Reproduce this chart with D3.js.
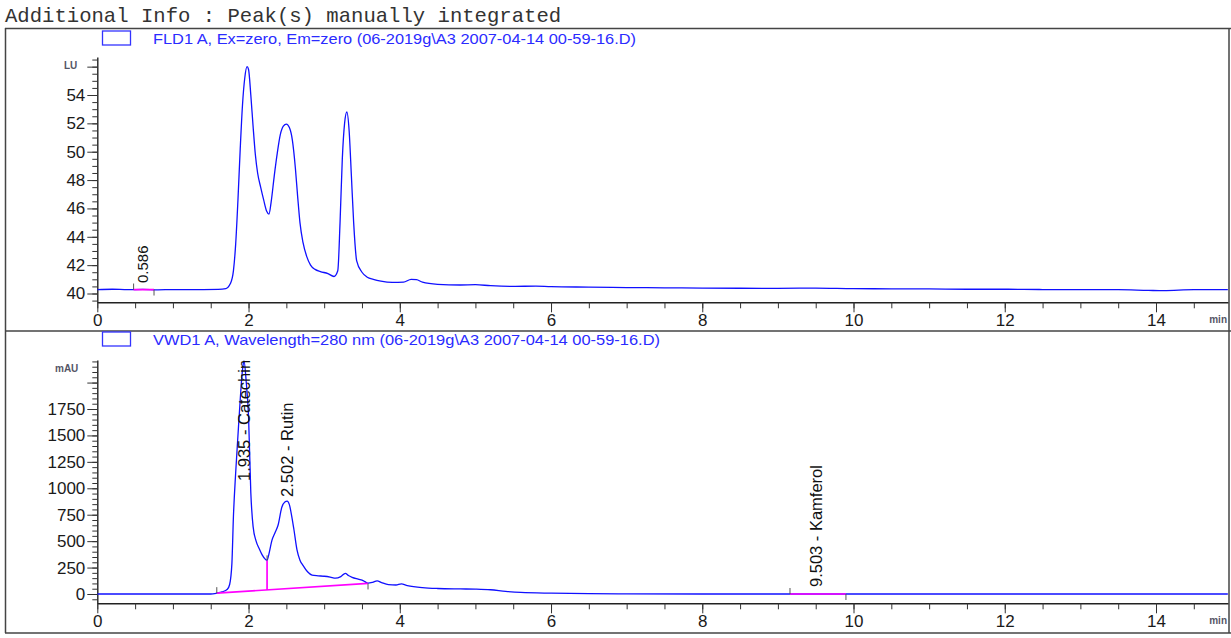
<!DOCTYPE html>
<html>
<head>
<meta charset="utf-8">
<script src="https://cdn.jsdelivr.net/npm/d3@7"></script>
<style>
body { margin: 0; background: #fff; }
text { font-family: "Liberation Sans", Arial, sans-serif; }
</style>
</head>
<body>
<div id="chart"></div>
<script>
// FLD1 trace, [time (min), LU]
const fldTrace = [
  [0, 40.28], [0.2, 40.30], [0.4, 40.27], [0.6, 40.29], [0.8, 40.26], [1.0, 40.28],
  [1.2, 40.27], [1.4, 40.28], [1.6, 40.29], [1.7, 40.35], [1.76, 40.7], [1.80, 41.6],
  [1.83, 43.5], [1.86, 46.6], [1.89, 50.2], [1.92, 53.3], [1.95, 55.2], [1.98, 56.0],
  [2.00, 55.8], [2.03, 54.0], [2.06, 51.8], [2.09, 49.8], [2.12, 48.5], [2.16, 47.5],
  [2.20, 46.6], [2.24, 45.8], [2.27, 45.6], [2.30, 46.5], [2.34, 48.3], [2.38, 49.9],
  [2.42, 51.2], [2.46, 51.8], [2.50, 51.95], [2.54, 51.7], [2.58, 50.8], [2.62, 48.8],
  [2.65, 46.8], [2.68, 45.0], [2.72, 43.6], [2.77, 42.6], [2.82, 42.0], [2.88, 41.7],
  [2.95, 41.55], [3.05, 41.4], [3.13, 41.2], [3.18, 41.6], [3.21, 45.0], [3.24, 49.5],
  [3.27, 52.0], [3.30, 52.8], [3.33, 51.5], [3.36, 48.3], [3.39, 45.0], [3.43, 42.3],
  [3.50, 41.5], [3.57, 41.15], [3.65, 41.0], [3.75, 40.87], [3.9, 40.78], [4.05, 40.8],
  [4.15, 41.0], [4.22, 40.98], [4.3, 40.8], [4.5, 40.65], [4.8, 40.6], [5.0, 40.62],
  [5.2, 40.55], [5.5, 40.5], [5.8, 40.52], [6.0, 40.48], [6.5, 40.45], [7.0, 40.42],
  [7.5, 40.40], [8.0, 40.38], [8.5, 40.37], [9.0, 40.36], [9.5, 40.38], [10.0, 40.34],
  [10.5, 40.33], [11.0, 40.32], [11.5, 40.30], [12.0, 40.30], [12.5, 40.28], [13.0, 40.28],
  [13.5, 40.27], [13.9, 40.22], [14.1, 40.2], [14.5, 40.27], [14.95, 40.27]
];

// VWD1 trace, [time (min), mAU]
const vwdTrace = [
  [0, 0], [1.0, 0], [1.5, 0], [1.58, 8], [1.65, 20], [1.72, 45], [1.75, 90], [1.78, 290],
  [1.80, 730], [1.83, 1150], [1.86, 1500], [1.89, 1840], [1.92, 2120], [1.94, 2205],
  [1.97, 2000], [2.00, 1680], [2.03, 960], [2.06, 640], [2.10, 500], [2.14, 430],
  [2.18, 370], [2.22, 330], [2.245, 318], [2.27, 380], [2.31, 510], [2.35, 580],
  [2.39, 650], [2.44, 820], [2.48, 870], [2.51, 878], [2.54, 845], [2.57, 740],
  [2.60, 610], [2.64, 420], [2.68, 320], [2.72, 270], [2.78, 210], [2.84, 178],
  [2.92, 172], [3.00, 168], [3.08, 160], [3.15, 150], [3.22, 165], [3.28, 195],
  [3.32, 175], [3.37, 158], [3.45, 140], [3.52, 125], [3.58, 102], [3.64, 110],
  [3.70, 125], [3.76, 108], [3.85, 88], [3.95, 85], [4.02, 95], [4.1, 80], [4.3, 60],
  [4.5, 52], [4.8, 48], [5.0, 46], [5.2, 40], [5.4, 25], [5.6, 15], [6.0, 8], [6.5, 4],
  [7.0, 1], [8.0, 0], [9.0, 0], [14.95, 0]
];

const xMajor = [0, 2, 4, 6, 8, 10, 12, 14];
const xMinor = d3.range(0, 15, 0.5);

const fldYMajor = [40, 42, 44, 46, 48, 50, 52, 54, 56];
const fldYLabels = [40, 42, 44, 46, 48, 50, 52, 54];
const fldYMinor = d3.range(39.5, 56.6, 0.5);

const vwdYMajor = [0, 250, 500, 750, 1000, 1250, 1500, 1750, 2000];
const vwdYLabels = [0, 250, 500, 750, 1000, 1250, 1500, 1750];
const vwdYMinor = d3.range(-50, 2201, 50);

// peak labels: retention time, text, height where the label starts
const fldPeaks = [{ rt: 0.586, label: "0.586", at: 40.74 }];
const vwdPeaks = [
  { rt: 1.935, label: "1.935 - Catechin", at: 1069 },
  { rt: 2.502, label: "2.502 - Rutin", at: 918 },
  { rt: 9.503, label: "9.503 - Kamferol", at: 66 }
];

// integration baselines: start/end [time, value], optional drop lines
const fldBaselines = [{ start: [0.48, 40.28], end: [0.75, 40.28], drops: [] }];
const vwdBaselines = [
  { start: [1.58, 8], end: [3.58, 100], drops: [2.245] },
  { start: [9.16, 0], end: [9.90, 0], drops: [] }
];

const W = 1231, H = 638;
const svg = d3.select("#chart").append("svg")
  .attr("width", W).attr("height", H)
  .style("display", "block");

svg.append("text")
  .attr("x", 5).attr("y", 22)
  .style("font-family", "'Liberation Mono', 'Courier New', monospace")
  .style("font-size", "20.6px")
  .attr("fill", "#333")
  .text("Additional Info : Peak(s) manually integrated");

// frame
const frame = svg.append("g").attr("stroke", "#444").attr("stroke-width", 1.5);
frame.append("line").attr("x1", 5).attr("x2", W).attr("y1", 28.5).attr("y2", 28.5);
frame.append("line").attr("x1", 5).attr("x2", W).attr("y1", 331).attr("y2", 331);
frame.append("line").attr("x1", 5).attr("x2", W).attr("y1", 633).attr("y2", 633);
frame.append("line").attr("x1", 5.5).attr("x2", 5.5).attr("y1", 28).attr("y2", 633);
frame.append("line").attr("x1", 1229).attr("x2", 1229).attr("y1", 28).attr("y2", 633);

const x = d3.scaleLinear().domain([0, 14]).range([97.3, 1156]);
x.domain([0, x.invert(1228)]).range([97.3, 1228]);

function panel(cfg) {
  const y = d3.scaleLinear().domain(cfg.anchor).range(cfg.anchorPx);
  y.domain([y.invert(cfg.bottom), y.invert(cfg.top)]).range([cfg.bottom, cfg.top]);

  const g = svg.append("g");

  // legend
  g.append("rect")
    .attr("x", 102.5).attr("y", cfg.legendY - 13).attr("width", 28).attr("height", 14)
    .attr("fill", "#fff").attr("stroke", "#3333ff").attr("stroke-width", 1.3);
  g.append("text")
    .attr("x", 153).attr("y", cfg.legendY)
    .attr("fill", "#2b2bff").style("font-size", "15px")
    .attr("textLength", cfg.legendLen).attr("lengthAdjust", "spacingAndGlyphs")
    .text(cfg.legend);

  // axes
  g.append("g").attr("transform", `translate(0,${cfg.bottom})`)
    .call(d3.axisBottom(x).tickValues(xMajor).tickSize(10).tickSizeOuter(0).tickPadding(2)
      .tickFormat(d3.format("d")));
  g.append("g").attr("transform", `translate(0,${cfg.bottom})`)
    .call(d3.axisBottom(x).tickValues(xMinor).tickSize(6).tickFormat(""))
    .select(".domain").remove();

  g.append("g").attr("transform", `translate(${x(0)},0)`)
    .call(d3.axisLeft(y).tickValues(cfg.yMajor).tickSize(10).tickSizeOuter(0).tickPadding(2)
      .tickFormat(d => cfg.yLabels.includes(d) ? d : ""));
  g.append("g").attr("transform", `translate(${x(0)},0)`)
    .call(d3.axisLeft(y).tickValues(cfg.yMinor).tickSize(5).tickFormat(""))
    .select(".domain").remove();

  g.selectAll(".domain").attr("stroke", "#222").attr("stroke-width", 1.4);
  g.selectAll(".tick line").attr("stroke", "#333").attr("stroke-width", 1);
  g.selectAll(".tick text").attr("fill", "#1a1a1a")
    .style("font-size", "17px").style("font-family", "'Liberation Sans', Arial, sans-serif");

  // unit labels
  g.append("text").attr("x", cfg.unitX).attr("y", cfg.top + 12)
    .attr("fill", "#556").style("font-size", "10px").style("font-weight", "bold")
    .text(cfg.unit);
  g.append("text").attr("x", 1227).attr("y", cfg.bottom + 21).attr("text-anchor", "end")
    .attr("fill", "#556").style("font-size", "10px").style("font-weight", "bold")
    .text("min");

  // trace
  const clipId = "clip" + cfg.id;
  svg.append("clipPath").attr("id", clipId).append("rect")
    .attr("x", x(0)).attr("y", cfg.top).attr("width", 1228 - x(0)).attr("height", cfg.bottom - cfg.top);

  const path = d3.line().x(d => x(d[0])).y(d => y(d[1])).curve(d3.curveMonotoneX);

  const plot = g.append("g").attr("clip-path", `url(#${clipId})`);

  plot.append("path").datum(cfg.trace)
    .attr("d", path).attr("fill", "none")
    .attr("stroke", "#1010ff").attr("stroke-width", 1.3);

  // integration baselines
  const bis = d3.bisector(d => d[0]).left;
  function valueAt(t) {
    const i = bis(cfg.trace, t);
    const a = cfg.trace[i - 1], b = cfg.trace[i];
    return a[1] + (b[1] - a[1]) * (t - a[0]) / (b[0] - a[0]);
  }
  cfg.baselines.forEach(b => {
    plot.append("line")
      .attr("x1", x(b.start[0])).attr("y1", y(b.start[1]))
      .attr("x2", x(b.end[0])).attr("y2", y(b.end[1]))
      .attr("stroke", "#ff00ff").attr("stroke-width", 1.7);
    const baseAt = t => b.start[1] + (b.end[1] - b.start[1]) * (t - b.start[0]) / (b.end[0] - b.start[0]);
    b.drops.forEach(t => {
      plot.append("line")
        .attr("x1", x(t)).attr("x2", x(t))
        .attr("y1", y(baseAt(t))).attr("y2", y(valueAt(t)))
        .attr("stroke", "#ff00ff").attr("stroke-width", 1.7);
      plot.append("line")
        .attr("x1", x(t)).attr("x2", x(t))
        .attr("y1", y(valueAt(t))).attr("y2", y(valueAt(t)) - 5)
        .attr("stroke", "#555");
    });
    plot.append("line")
      .attr("x1", x(b.start[0])).attr("x2", x(b.start[0]))
      .attr("y1", y(b.start[1])).attr("y2", y(b.start[1]) - 6)
      .attr("stroke", "#555");
    plot.append("line")
      .attr("x1", x(b.end[0])).attr("x2", x(b.end[0]))
      .attr("y1", y(b.end[1])).attr("y2", y(b.end[1]) + 6)
      .attr("stroke", "#555");
  });

  // peak labels
  cfg.peaks.forEach(p => {
    const px = x(p.rt) + 6.5, py = y(p.at);
    g.append("text")
      .attr("transform", `translate(${px},${py}) rotate(-90)`)
      .attr("fill", "#111").style("font-size", cfg.peakFont)
      .text(p.label);
  });
}

panel({
  id: "fld", anchor: [40, 54], anchorPx: [293.5, 95], top: 57, bottom: 302.3,
  legendY: 44, legend: "FLD1 A, Ex=zero, Em=zero (06-2019g\\A3 2007-04-14 00-59-16.D)", legendLen: 483,
  yMajor: fldYMajor, yLabels: fldYLabels, yMinor: fldYMinor,
  unit: "LU", unitX: 64, trace: fldTrace, baselines: fldBaselines, peaks: fldPeaks,
  peakFont: "15px"
});

panel({
  id: "vwd", anchor: [0, 1750], anchorPx: [594, 409], top: 360, bottom: 603.3,
  legendY: 345, legend: "VWD1 A, Wavelength=280 nm (06-2019g\\A3 2007-04-14 00-59-16.D)", legendLen: 507,
  yMajor: vwdYMajor, yLabels: vwdYLabels, yMinor: vwdYMinor,
  unit: "mAU", unitX: 55, trace: vwdTrace, baselines: vwdBaselines, peaks: vwdPeaks,
  peakFont: "16.5px"
});
</script>
</body>
</html>
